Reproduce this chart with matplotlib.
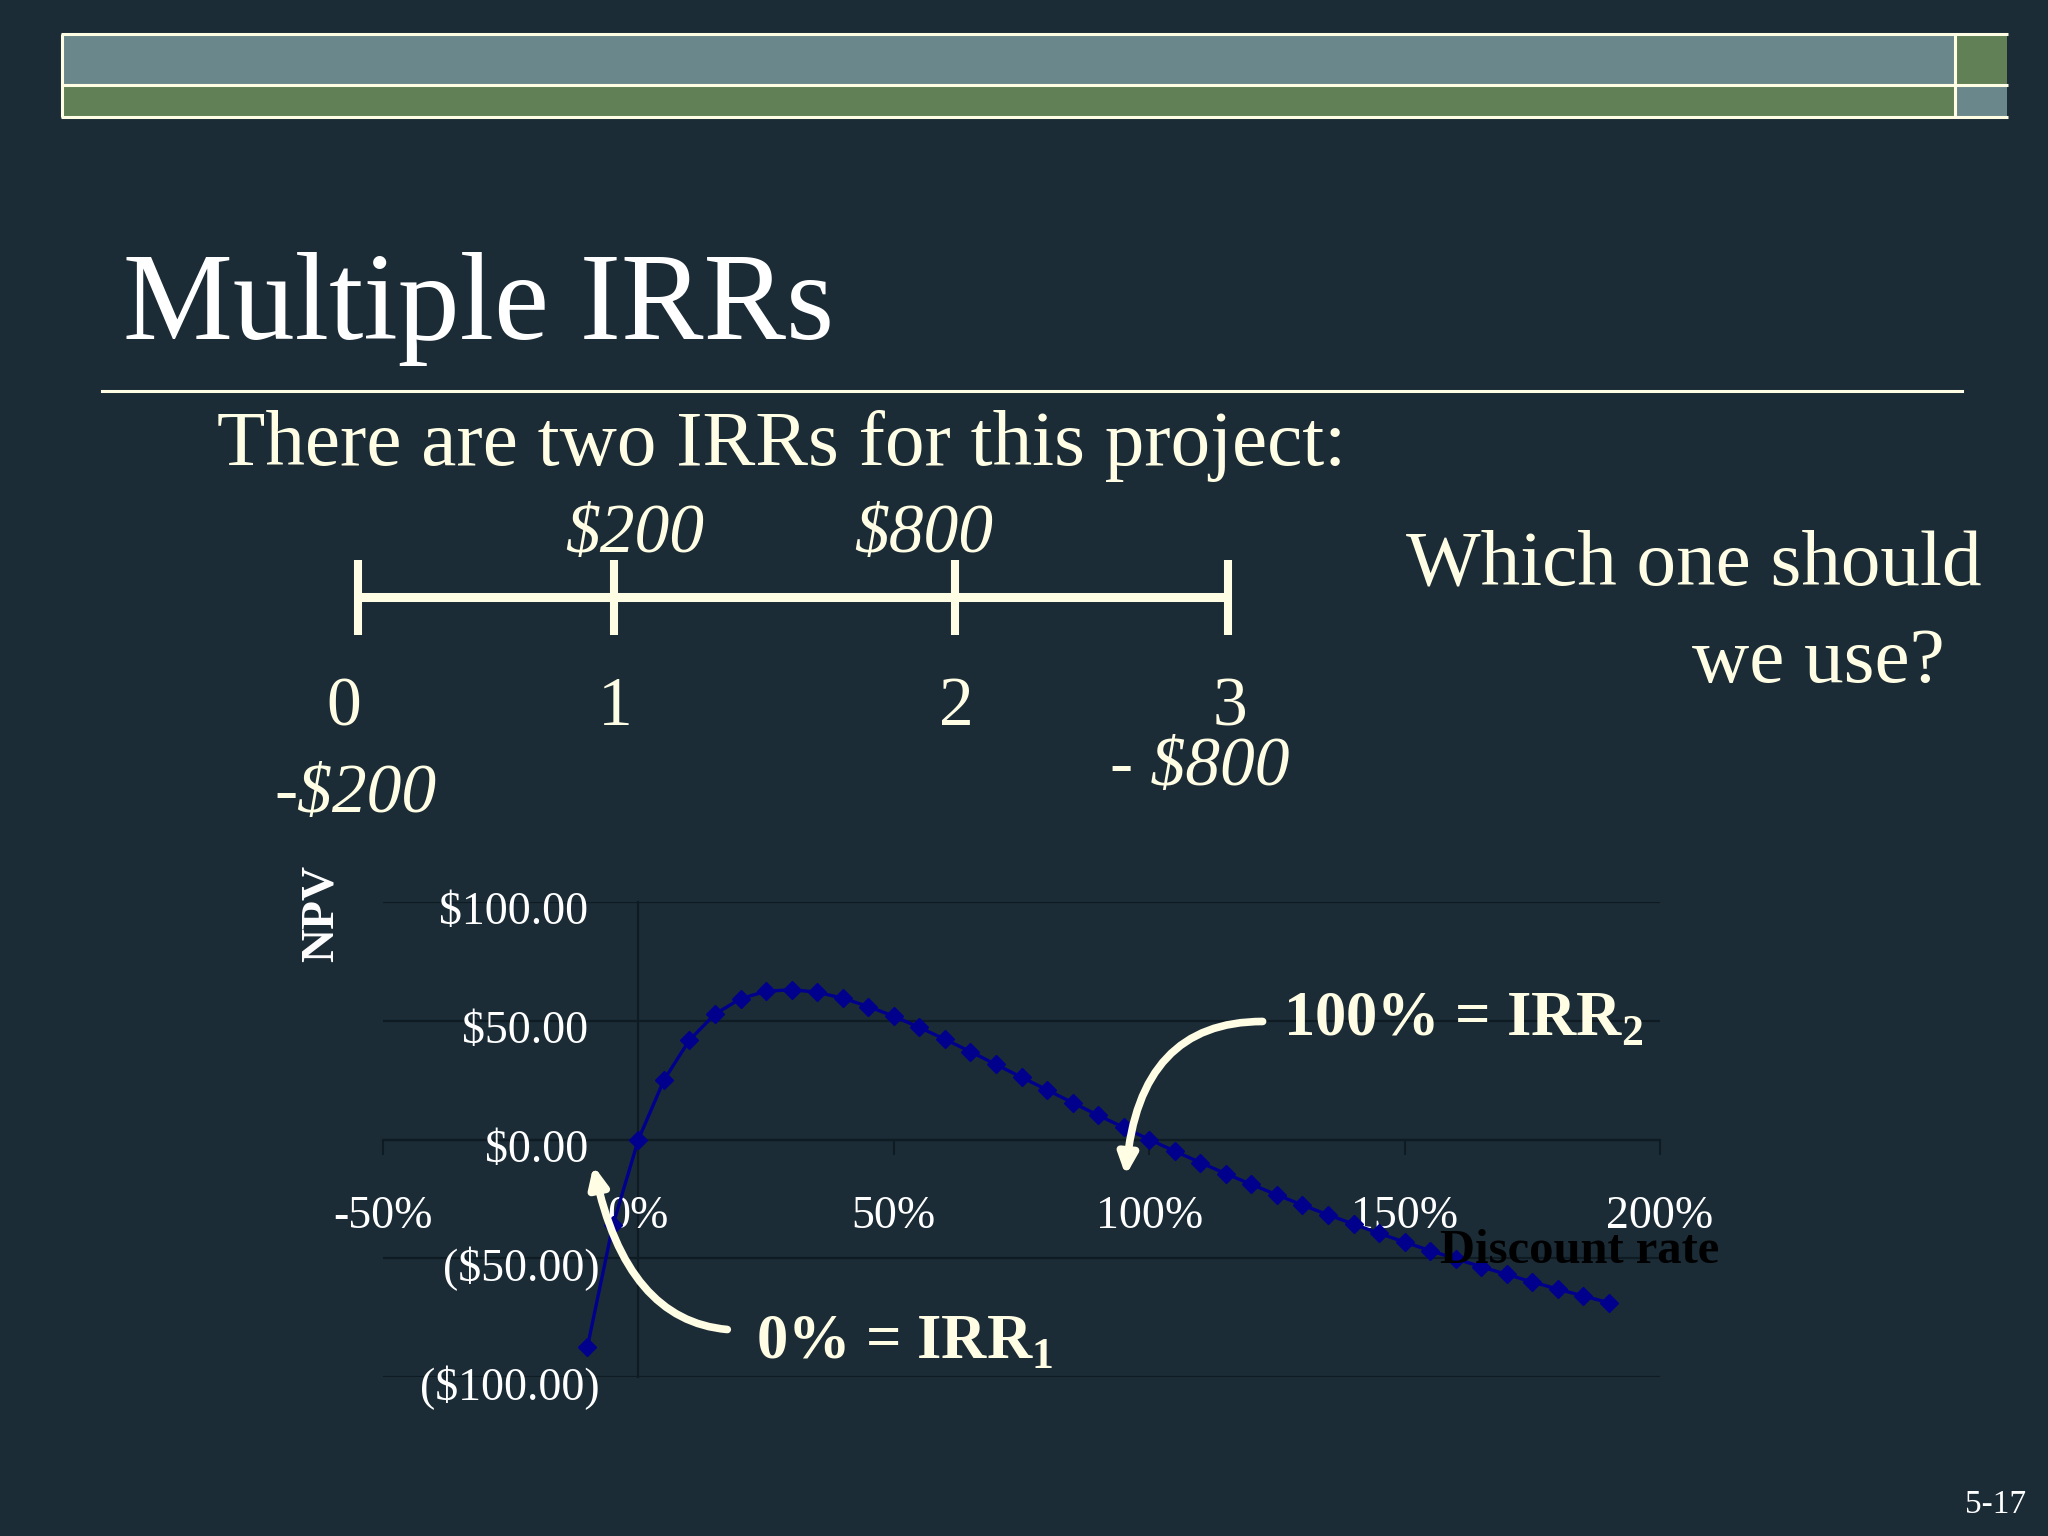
import matplotlib
matplotlib.use("Agg")
import matplotlib.pyplot as plt
from matplotlib.patches import Rectangle
from matplotlib.ticker import FuncFormatter
from matplotlib.transforms import ScaledTranslation

# ---------- data ----------
rates = [-10, -5, 0, 5, 10, 15, 20, 25, 30, 35, 40, 45, 50, 55, 60, 65, 70, 75, 80, 85,
         90, 95, 100, 105, 110, 115, 120, 125, 130, 135, 140, 145, 150, 155, 160, 165,
         170, 175, 180, 185, 190]
npv = [-87.5, -36.1, 0.0, 25.0, 41.9, 52.8, 59.3, 62.4, 63.1, 62.0, 59.5, 56.0, 51.9,
       47.2, 42.2, 37.0, 31.6, 26.2, 20.9, 15.5, 10.2, 5.1, 0.0, -4.9, -9.7, -14.4,
       -18.9, -23.3, -27.6, -31.7, -35.6, -39.5, -43.2, -46.8, -50.2, -53.6, -56.8,
       -60.0, -63.0, -65.9, -68.7]
x_ticks = [-50, 0, 50, 100, 150, 200]
y_ticks = [-100, -50, 0, 50, 100]

periods = ["0", "1", "2", "3"]
inflows = ["$200", "$800"]          # at t=1, t=2
outflows = ["-$200", "- $800"]      # at t=0, t=3

BG = "#1B2C37"
CREAM = "#FFFDE4"
GRID = "#0F1B23"
NAVY = "#00008C"
SLATE = "#6A888B"
MOSS = "#618055"

plt.rcParams["font.family"] = ["Liberation Serif", "DejaVu Serif"]
plt.rcParams["mathtext.fontset"] = "custom"
plt.rcParams["mathtext.rm"] = "Liberation Serif"
plt.rcParams["mathtext.bf"] = "Liberation Serif:bold"

fig = plt.figure(figsize=(20.48, 15.36), dpi=100, facecolor=BG)

# ---------- slide background layer, pixel coordinates ----------
bg = fig.add_axes([0, 0, 1, 1], zorder=0)
bg.set_xlim(0, 2048)
bg.set_ylim(1536, 0)
bg.axis("off")

# header bands
bg.add_patch(Rectangle((62, 34), 1892, 50, fc=SLATE, ec="none"))
bg.add_patch(Rectangle((1955, 34), 52, 50, fc=MOSS, ec="none"))
bg.add_patch(Rectangle((62, 86), 1892, 30, fc=MOSS, ec="none"))
bg.add_patch(Rectangle((1955, 86), 52, 30, fc=SLATE, ec="none"))
for yy in (33.5, 85, 116.5):
    bg.plot([61, 2008], [yy, yy], color=CREAM, lw=2.2, solid_capstyle="butt")
for xx in (61.5, 1954.5):
    bg.plot([xx, xx], [33.5, 116.5], color=CREAM, lw=2.2, solid_capstyle="butt")

# title + rule
bg.text(123, 339, "Multiple IRRs", fontsize=89, color="white", va="baseline")
bg.plot([102, 1962], [391, 391], color=CREAM, lw=2.2)
bg.text(217, 465, "There are two IRRs for this project:", fontsize=57, color=CREAM, va="baseline")

bg.text(1406, 585, "Which one should", fontsize=57, color=CREAM, va="baseline")
bg.text(1692, 682, "we use?", fontsize=57, color=CREAM, va="baseline")

# cash-flow timeline
tick_x = [358, 614, 955, 1228]
bg.plot([tick_x[0], tick_x[-1]], [597, 597], color=CREAM, lw=6.5, solid_capstyle="butt")
for xx in tick_x:
    bg.plot([xx, xx], [560, 635], color=CREAM, lw=5.8, solid_capstyle="butt")
for xx, lab in zip([344, 615, 956, 1230], periods):
    bg.text(xx, 725, lab, fontsize=50, color=CREAM, ha="center", va="baseline")
for xx, lab in zip([635, 924], inflows):
    bg.text(xx, 552, lab, fontsize=50, style="italic", color=CREAM, ha="center", va="baseline")
bg.text(355, 812, outflows[0], fontsize=50, style="italic", color=CREAM, ha="center", va="baseline")
bg.text(1200, 785, outflows[1], fontsize=50, style="italic", color=CREAM, ha="center", va="baseline")

bg.text(322, 913, "NPV", rotation=90, fontsize=34, fontweight="bold", color="white",
        ha="center", va="center")
bg.text(2026, 1513, "5-17", fontsize=24, color="white", ha="right", va="baseline")

# ---------- NPV profile ----------
ax = fig.add_axes([383 / 2048, 1 - 1377 / 1536, 1277 / 2048, 475 / 1536], zorder=2)
ax.set_facecolor("none")
ax.plot(rates, npv, color=NAVY, lw=2.4, marker="D", ms=9, mfc=NAVY, mec=NAVY,
        zorder=3, clip_on=False)
ax.set_xlim(-50, 200)
ax.set_ylim(-100, 100)
ax.set_xticks(x_ticks)
ax.set_yticks(y_ticks)
ax.xaxis.set_major_formatter(FuncFormatter(lambda v, p: f"{int(v)}%"))
ax.yaxis.set_major_formatter(FuncFormatter(
    lambda v, p: f"${v:.2f} " if v >= 0 else f"(${-v:.2f})"))

for s in ("top", "right"):
    ax.spines[s].set_visible(False)
ax.spines["left"].set_position(("data", 0))
ax.spines["bottom"].set_position(("data", 0))
for s in ("left", "bottom"):
    ax.spines[s].set_color(GRID)
    ax.spines[s].set_linewidth(1.6)
    ax.spines[s].set_zorder(0.3)
ax.yaxis.grid(True, color=GRID, lw=1.6)
ax.set_axisbelow(True)
ax.tick_params(axis="x", direction="out", length=11, width=1.5, color=GRID, pad=29,
               labelsize=33, labelcolor="white")
ax.tick_params(axis="y", length=0, pad=28, labelsize=33, labelcolor="white")
shift = ScaledTranslation(0, -6 / 100, fig.dpi_scale_trans)
for lab in ax.get_yticklabels():
    lab.set_transform(lab.get_transform() + shift)

ax.text(156.9, -51.8, "Discount rate", fontsize=35, fontweight="bold", color="black",
        va="baseline", zorder=6)

# IRR call-outs
arrow_style = "-|>,head_length=1.2,head_width=0.55"
ax.annotate("", xy=(95.4, -15.2), xytext=(122.2, 49.7),
            arrowprops=dict(arrowstyle=arrow_style, mutation_scale=10, color=CREAM, lw=5.5,
                            connectionstyle="angle3,angleA=0,angleB=85",
                            shrinkA=0, shrinkB=0), zorder=5)
ax.annotate("", xy=(-8.8, -11.0), xytext=(17.4, -80.0),
            arrowprops=dict(arrowstyle=arrow_style, mutation_scale=10, color=CREAM, lw=5.5,
                            connectionstyle="angle3,angleA=175,angleB=102",
                            shrinkA=0, shrinkB=0), zorder=5)
ax.text(126.1, 43.8, "100% = IRR$_\\mathbf{2}$", fontsize=45, fontweight="bold",
        color=CREAM, va="baseline", zorder=6)
ax.text(23.1, -92.2, "0% = IRR$_\\mathbf{1}$", fontsize=45, fontweight="bold",
        color=CREAM, va="baseline", zorder=6)

fig.savefig("out.png", dpi=100, facecolor=BG)
